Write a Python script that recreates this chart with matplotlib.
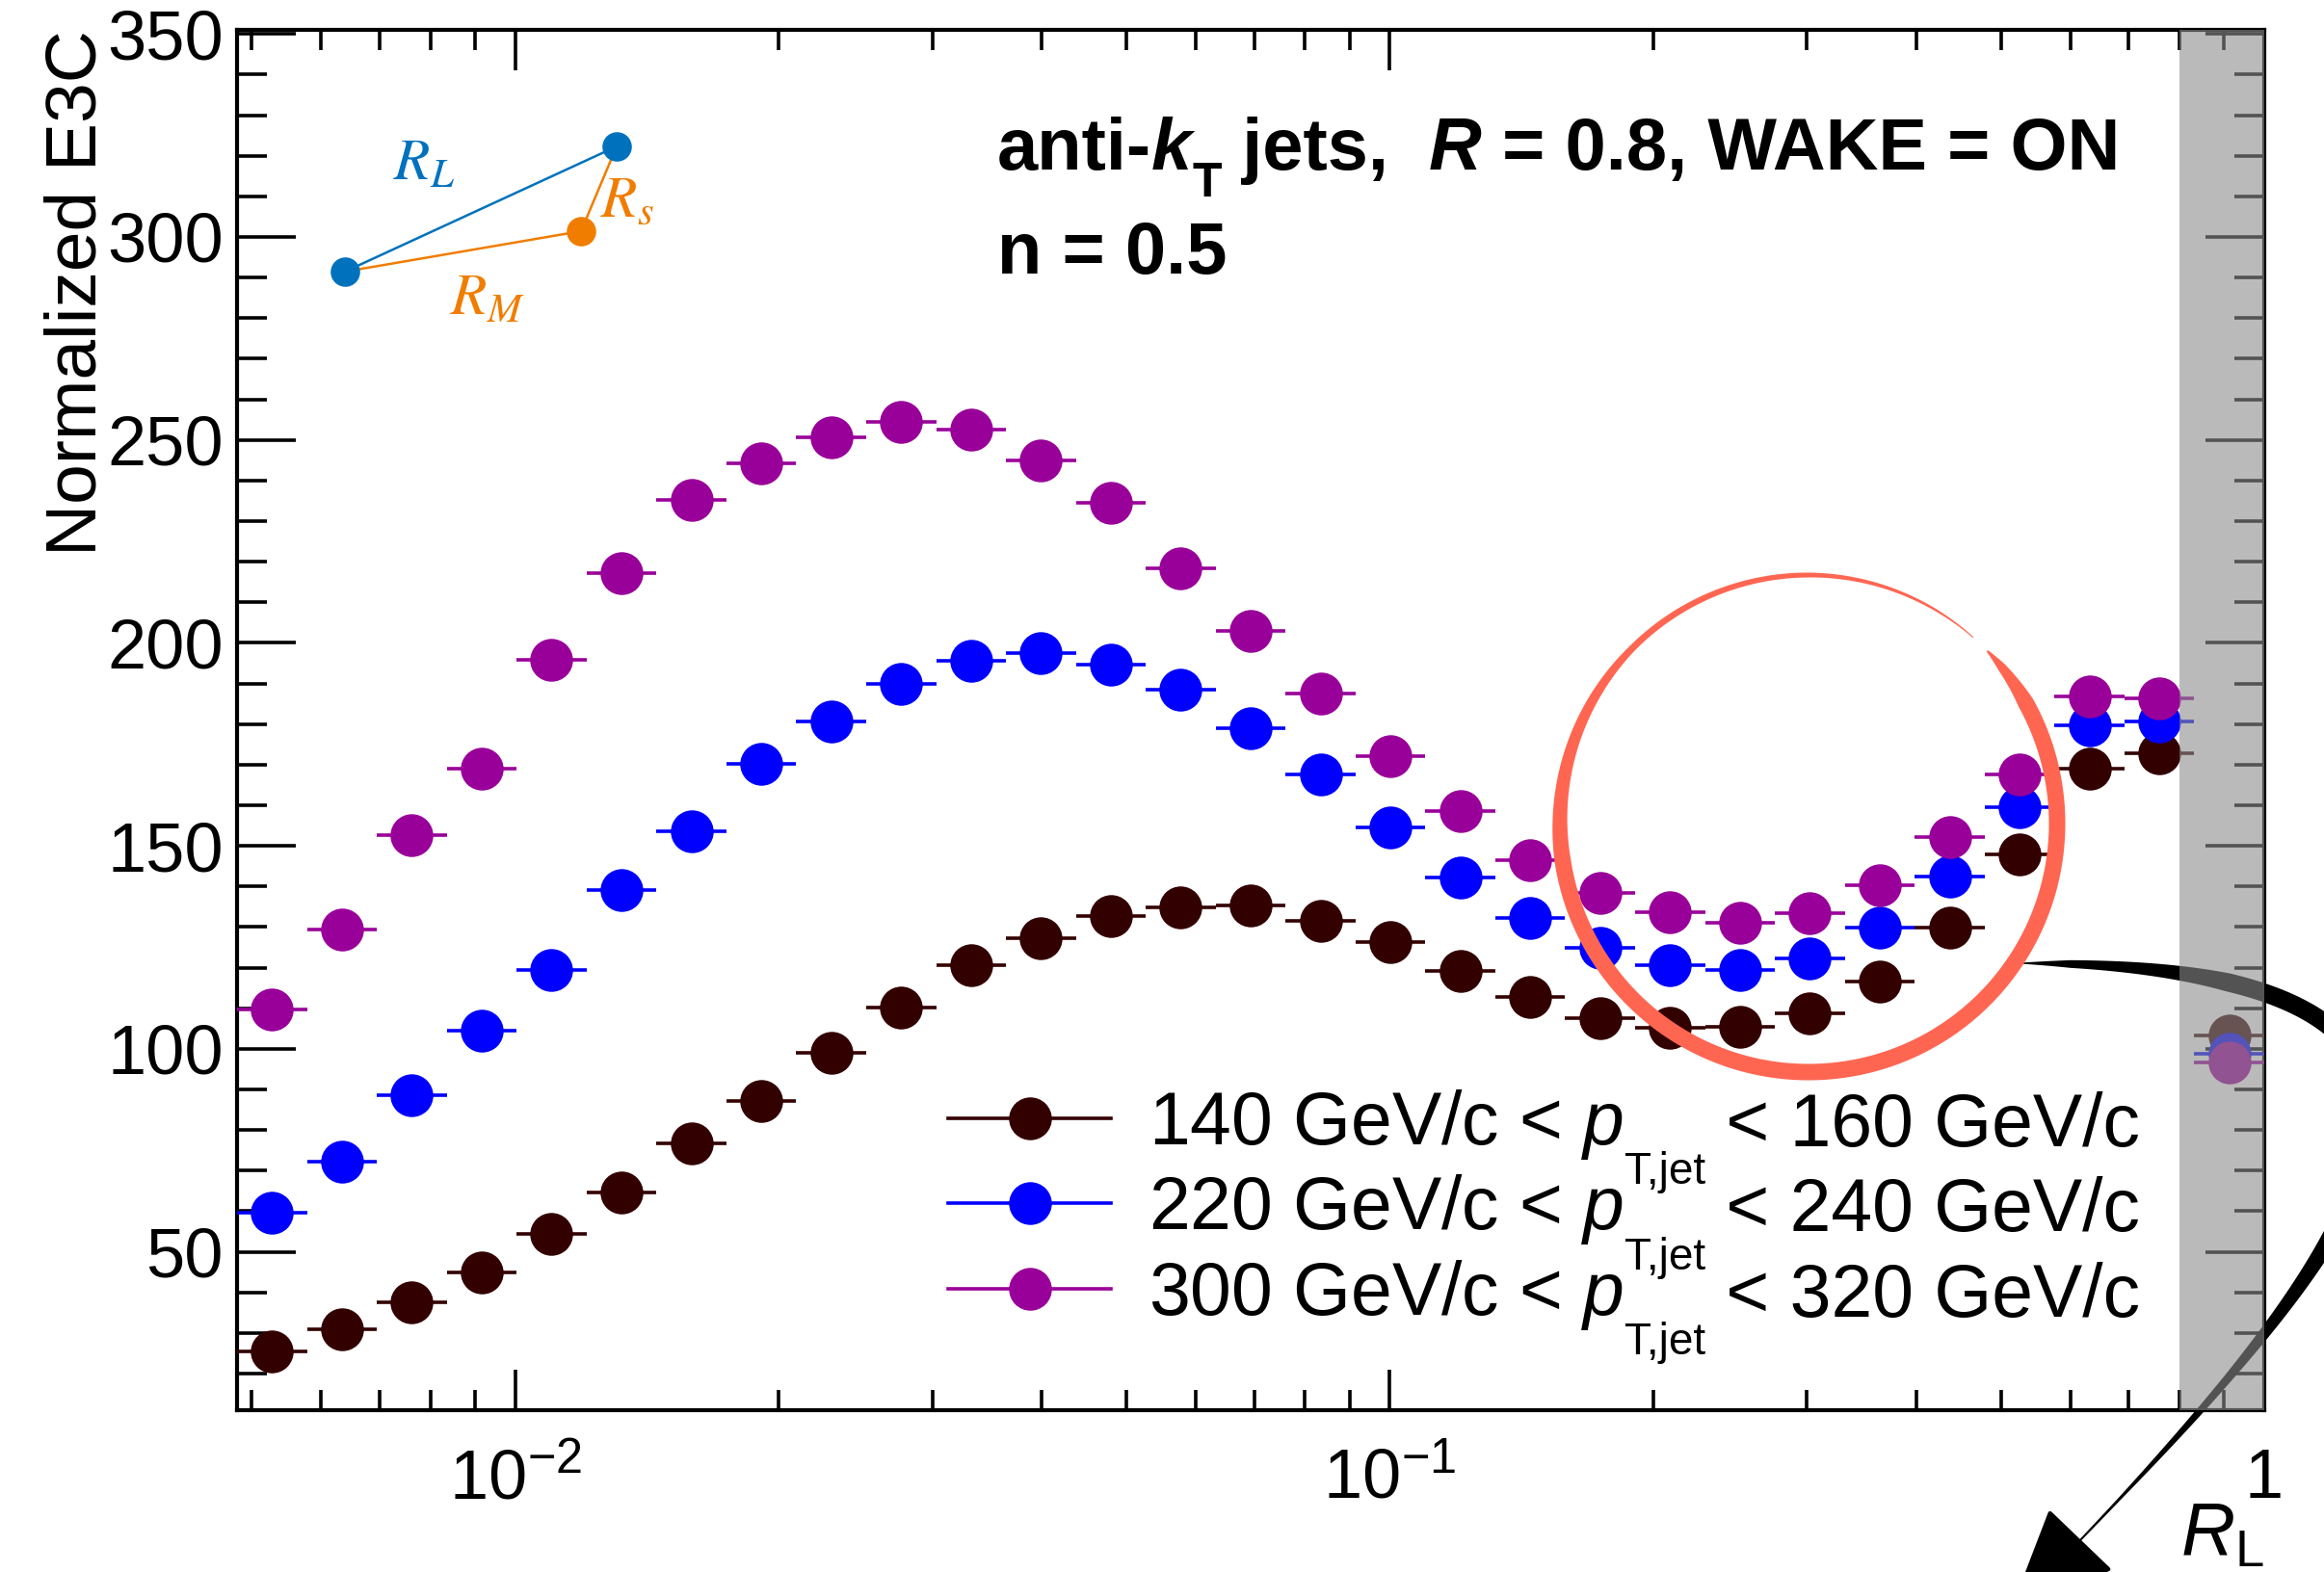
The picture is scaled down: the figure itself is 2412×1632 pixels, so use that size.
import numpy as np
import matplotlib
matplotlib.use("Agg")
import matplotlib.pyplot as plt
from matplotlib.patches import Polygon
from matplotlib.lines import Line2D
from matplotlib.ticker import FixedLocator, FixedFormatter, MultipleLocator, LogLocator, NullFormatter

plt.rcParams["font.family"] = ["Liberation Sans", "DejaVu Sans"]
plt.rcParams["mathtext.fontset"] = "custom"
plt.rcParams["mathtext.rm"] = "Liberation Sans"
plt.rcParams["mathtext.it"] = "Liberation Sans:italic"
plt.rcParams["mathtext.bf"] = "Liberation Sans:bold"

# ---------------- data ----------------
# 29 log-uniform bins in R_L
rl_edges = np.logspace(-2.318, 0.0, 30)

e3c_140_160 = [25.5, 30.9, 37.6, 44.9, 54.4, 64.7, 76.7, 87.1, 99.1, 110.2,
               120.5, 127.3, 132.7, 134.9, 135.3, 131.6, 126.2, 119.1, 112.9, 107.6,
               105.3, 105.5, 108.7, 116.7, 129.8, 148.0, 169.1, 172.7, 103.3]
e3c_220_240 = [59.6, 72.2, 88.7, 104.4, 119.5, 139.1, 153.7, 170.2, 180.7, 190.0,
               195.6, 197.5, 194.7, 188.5, 179.1, 167.6, 154.5, 142.2, 132.2, 124.9,
               120.7, 119.5, 122.2, 129.8, 142.4, 159.5, 179.6, 180.7, 98.7]
e3c_300_320 = [109.8, 129.5, 152.7, 168.9, 195.8, 217.1, 235.2, 244.2, 250.7, 254.5,
               252.5, 244.9, 234.4, 218.4, 202.9, 187.5, 172.0, 158.5, 146.5, 138.4,
               133.6, 131.1, 133.5, 140.4, 152.2, 167.6, 186.7, 186.4, 96.6]

pt_low = [140, 220, 300]
pt_high = [160, 240, 320]
series_colors = ["#330000", "#0000FF", "#990099"]

jet_radius = 0.8
y_ticks = [50, 100, 150, 200, 250, 300, 350]
x_ticks = [0.01, 0.1, 1.0]
x_tick_labels = [r"$10^{-2}$", r"$10^{-1}$", "1"]

# ---------------- figure ----------------
W, H, DPI = 2412, 1632, 200
fig = plt.figure(figsize=(W / DPI, H / DPI), dpi=DPI)
fig.patch.set_facecolor("white")


def fx(x):
    return x / W


def fy(y):
    return 1.0 - y / H


ax = fig.add_axes([fx(246), fy(1464), (2350 - 246) / W, (1464 - 31) / H])
ax.patch.set_facecolor("none")

centers = np.sqrt(rl_edges[:-1] * rl_edges[1:])
xerr = np.vstack([centers - rl_edges[:-1], rl_edges[1:] - centers])

handles = []
for vals, col in zip([e3c_140_160, e3c_220_240, e3c_300_320], series_colors):
    ax.errorbar(centers, vals, xerr=xerr, fmt="o", ms=16, mew=0, color=col,
                ecolor=col, elinewidth=1.3, capsize=0, zorder=3)
    handles.append(Line2D([], [], color=col, lw=1.3, marker="o", ms=16, mew=0))

ax.set_xscale("log")
ax.set_xlim(rl_edges[0], rl_edges[-1])
ax.set_ylim(11, 351)

# region beyond the jet radius
ax.axvspan(jet_radius, rl_edges[-1], facecolor="#8c8c8c", alpha=0.6, lw=0, zorder=10)

ax.xaxis.set_major_locator(FixedLocator(x_ticks))
ax.xaxis.set_major_formatter(FixedFormatter(x_tick_labels))
ax.xaxis.set_minor_locator(LogLocator(base=10, subs=np.arange(2, 10), numticks=20))
ax.xaxis.set_minor_formatter(NullFormatter())
ax.yaxis.set_major_locator(FixedLocator(y_ticks))
ax.yaxis.set_minor_locator(MultipleLocator(10))

ax.tick_params(which="both", direction="in", top=True, right=True, width=1.3,
               labelsize=26, colors="black")
ax.tick_params(axis="y", which="major", length=22, pad=5)
ax.tick_params(axis="y", which="minor", length=11)
ax.tick_params(axis="x", which="major", length=15, pad=14)
ax.tick_params(axis="x", which="minor", length=7.5)
for sp in ax.spines.values():
    sp.set_linewidth(1.5)

ax.set_ylabel("Normalized E3C", fontsize=27, loc="top", labelpad=-1)
ax.set_xlabel(r"$R_{\mathrm{L}}$", fontsize=28, loc="right")
ax.xaxis.set_label_coords(1.0, (1464 - 1558) / (1464 - 31))

# legend: markers and the first part of each label; the p_T subscript and
# the upper bound are chained onto the legend text (drawn after the legend)
leg_labels = [f"{lo} GeV/c < $p$" for lo in pt_low]
leg = ax.legend(handles, leg_labels, loc="upper left",
                bbox_to_anchor=(0.3508, 0.234), frameon=False, fontsize=27.7,
                handlelength=2.2, handletextpad=0.5, labelspacing=0.15,
                borderpad=0, borderaxespad=0)
leg.set_zorder(20)
for lt, hi in zip(leg.get_texts(), pt_high):
    sub = ax.annotate("T,jet", xy=(1, 0), xycoords=lt, xytext=(0.5, -12),
                      textcoords="offset points", va="bottom", ha="left",
                      fontsize=16.5, annotation_clip=False, zorder=21)
    ax.annotate(f" < {hi} GeV/c", xy=(1, 0), xycoords=(sub, lt), va="bottom",
                ha="left", fontsize=27.7, annotation_clip=False, zorder=22)


# ---------------- header text ----------------
def text_run(x0, y0, pieces):
    base = None
    prev = None
    for s, kw, dy in pieces:
        if prev is None:
            t = ax.annotate(s, xy=(x0, y0), xycoords="figure fraction",
                            va="bottom", ha="left", annotation_clip=False, **kw)
        else:
            t = ax.annotate(s, xy=(1, 0), xycoords=(prev, base),
                            xytext=(0, -dy), textcoords="offset points",
                            va="bottom", ha="left", annotation_clip=False, **kw)
        if dy == 0:
            base = t
        prev = t
    return prev


bold = dict(fontsize=27.3, fontweight="bold")
bold_it = dict(fontsize=27.3, fontweight="bold", fontstyle="italic")
sub = dict(fontsize=18, fontweight="bold")
text_run(fx(1035), fy(192), [("anti-", bold, 0), ("k", bold_it, 0), ("T", sub, 8),
                             (" jets,  ", bold, 0), ("R", bold_it, 0),
                             (" = 0.8, WAKE = ON", bold, 0)])
text_run(fx(1035), fy(300), [("n = 0.5", bold, 0)])

# ---------------- three-point sketch ----------------
c_blue, c_orange = "#0072BD", "#F07D00"
pts = {"a": (358, 282), "b": (640, 152), "c": (603, 240)}


def seg(p, q, col):
    fig.add_artist(Line2D([fx(p[0]), fx(q[0])], [fy(p[1]), fy(q[1])],
                          color=col, lw=0.9, transform=fig.transFigure, zorder=6))


seg(pts["a"], pts["b"], c_blue)
seg(pts["a"], pts["c"], c_orange)
seg(pts["c"], pts["b"], c_orange)
for k, col in (("a", c_blue), ("b", c_blue), ("c", c_orange)):
    fig.add_artist(Line2D([fx(pts[k][0])], [fy(pts[k][1])], marker="o", ms=11,
                          mew=0, color=col, transform=fig.transFigure, zorder=7))
fig.text(fx(440), fy(171), r"$R_L$", color=c_blue, fontsize=22, ha="center",
         va="center", math_fontfamily="stix")
fig.text(fx(651), fy(209), r"$R_s$", color=c_orange, fontsize=22, ha="center",
         va="center", math_fontfamily="stix")
fig.text(fx(506), fy(311), r"$R_M$", color=c_orange, fontsize=22, ha="center",
         va="center", math_fontfamily="stix")


# ---------------- hand-drawn circle and arrow ----------------
def ribbon(xs, ys, ws):
    dx = np.gradient(xs)
    dy = np.gradient(ys)
    n = np.hypot(dx, dy)
    nx, ny = -dy / n, dx / n
    left = np.c_[xs + nx * ws / 2, ys + ny * ws / 2]
    right = np.c_[xs - nx * ws / 2, ys - ny * ws / 2]
    poly = np.vstack([left, right[::-1]])
    return np.c_[fx(poly[:, 0]), fy(poly[:, 1])]


# circle around the dip
cx, cy, r = 1877, 855, 258
ang = np.linspace(44, -311.5, 700)
s = 44 - ang
wc = np.interp(s, [0, 5, 15, 215, 254, 269, 314, 344, 355.5],
               [2, 9, 17, 17, 10, 7, 5, 2.5, 1])
xs = cx + r * np.cos(np.radians(ang))
ys = cy - r * np.sin(np.radians(ang))
fig.add_artist(Polygon(ribbon(xs, ys, wc), closed=True, facecolor="#FF6652",
                       edgecolor="none", transform=fig.transFigure, zorder=5))

# curved arrow towards the axis title
P0, P1, P2, P3 = (np.array(p, float) for p in [(2097, 1000), (2700, 1000), (2434, 1312), (2158, 1600)])
t = np.linspace(0, 1, 400)[:, None]
curve = ((1 - t) ** 3) * P0 + 3 * ((1 - t) ** 2) * t * P1 + 3 * (1 - t) * t ** 2 * P2 + t ** 3 * P3
wa = np.interp(t[:, 0], [0, 0.03, 0.15, 0.6, 0.8, 0.95, 1.0], [1, 8, 19, 19, 9, 3, 2])
fig.add_artist(Polygon(ribbon(curve[:, 0], curve[:, 1], wa), closed=True,
                       facecolor="black", edgecolor="none",
                       transform=fig.transFigure, zorder=-1))
d = P3 - P2
d = d / np.hypot(*d)
perp = np.array([-d[1], d[0]])
head = np.array([P3 + 42 * perp, P3 + 100 * d, P3 - 42 * perp])
fig.add_artist(Polygon(np.c_[fx(head[:, 0]), fy(head[:, 1])], closed=True,
                       facecolor="black", edgecolor="black", lw=1.5, joinstyle="round",
                       transform=fig.transFigure, zorder=-1))

fig.savefig("out.png", dpi=DPI)
